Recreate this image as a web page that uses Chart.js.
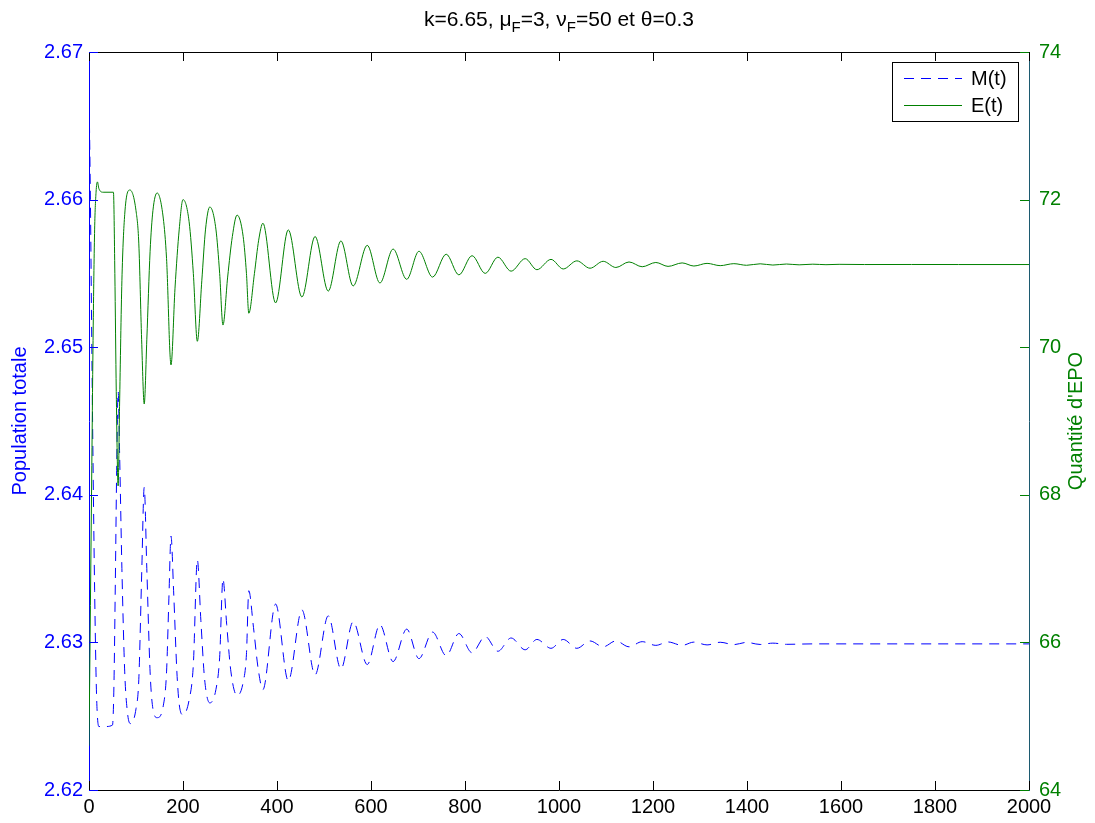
<!DOCTYPE html>
<html><head><meta charset="utf-8">
<script src="https://cdn.jsdelivr.net/npm/chart.js@4/dist/chart.umd.min.js"></script>
<style>html,body{margin:0;padding:0;background:#fff;overflow:hidden}#wrap{width:1095px;height:823px}</style>
</head><body><div id="wrap"><canvas id="c" width="1095" height="823"></canvas></div>
<script>
const FONT = '"Liberation Sans", Arial, Helvetica, sans-serif';
const xTicks = [0, 200, 400, 600, 800, 1000, 1200, 1400, 1600, 1800, 2000];
const leftTicks = [2.62, 2.63, 2.64, 2.65, 2.66, 2.67];
const rightTicks = [64, 66, 68, 70, 72, 74];
const seriesNames = ['M(t)', 'E(t)'];
const leftTitle = 'Population totale';
const rightTitle = "Quantité d'EPO";

// M(t): population totale (left axis)
const mTimes = [0, 3, 6, 9, 12, 16, 21, 35, 50, 53, 56, 59, 62, 65, 70, 76, 82, 88,
  100, 106, 112, 117.5, 123, 130, 136, 145, 158, 165, 170, 174.5, 180, 187, 192, 200,
  213, 222, 230.5, 238, 246, 257, 270, 278, 285, 293, 302, 315, 328, 335, 340, 350, 360, 370,
  397, 424, 453, 481, 509, 536, 562, 592, 619, 647, 676, 702, 731, 760, 787, 815, 843, 870,
  898, 928, 953, 983, 1009, 1038, 1066, 1094, 1121, 1149, 1177, 1206, 1232, 1262, 1287, 1315,
  1343, 1372, 1399, 1428, 1455, 1484, 1540, 1700, 2000];
const mValues = [2.6675, 2.660, 2.650, 2.641, 2.6335, 2.6265, 2.6243, 2.6243, 2.6244, 2.627, 2.634, 2.642, 2.647, 2.643, 2.635, 2.628, 2.6252, 2.6245,
  2.6255, 2.6275, 2.6345, 2.6405, 2.635, 2.628, 2.6255, 2.6249, 2.6257, 2.628, 2.633, 2.6372, 2.6335, 2.628, 2.6258, 2.6251,
  2.6261, 2.6285, 2.6356, 2.6315, 2.6275, 2.6259, 2.6268, 2.629, 2.6343, 2.6312, 2.628, 2.6264, 2.6273, 2.6292, 2.6335, 2.631, 2.6282, 2.6268,
  2.6326, 2.6274, 2.6322, 2.6278, 2.6318, 2.6282, 2.6314, 2.6285, 2.6312, 2.6287, 2.6309, 2.6289, 2.6307, 2.6291, 2.6306, 2.6293, 2.6304, 2.6294,
  2.6303, 2.6295, 2.6302, 2.6296, 2.6302, 2.6296, 2.6301, 2.6297, 2.6301, 2.6297, 2.63005, 2.6298, 2.63003, 2.6298, 2.63002, 2.62983,
  2.63001, 2.62985, 2.6300, 2.62986, 2.62995, 2.62987, 2.6299, 2.6299, 2.6299];

// E(t): quantité d'EPO (right axis)
const eTimes = [0, 3, 6, 9, 12, 15, 18, 21, 30, 52, 55, 58, 62, 65, 70, 76, 87,
  100, 106, 112, 117.5, 123, 130, 136, 145, 158, 165, 174.5, 183, 192, 200,
  213, 222, 230.5, 240, 248, 257, 270, 278, 285, 295, 305, 315, 328, 335, 340, 352, 361, 370,
  397, 424, 453, 481, 509, 536, 562, 592, 619, 647, 676, 702, 731, 760, 787, 815, 843, 870,
  898, 928, 953, 983, 1009, 1038, 1066, 1094, 1121, 1149, 1177, 1206, 1232, 1262, 1287, 1315,
  1343, 1372, 1399, 1428, 1455, 1484, 1511, 1540, 1568, 1596, 1650, 1750, 1850, 2000];
const eValues = [64.6, 66.5, 68.4, 70.3, 71.6, 72.1, 72.24, 72.15, 72.1, 72.1, 71.0, 69.4, 68.12, 69.2, 70.9, 71.8, 72.13,
  71.85, 71.4, 70.1, 69.23, 70.1, 71.3, 71.85, 72.09, 71.75, 71.2, 69.76, 70.8, 71.6, 72.0,
  71.7, 71.0, 70.08, 70.9, 71.6, 71.9, 71.6, 71.0, 70.3, 70.95, 71.5, 71.79, 71.5, 71.0, 70.46, 71.0, 71.45, 71.68,
  70.6, 71.59, 70.68, 71.5, 70.76, 71.44, 70.83, 71.38, 70.87, 71.33, 70.92, 71.3, 70.95, 71.26, 70.98, 71.24, 71.0, 71.22,
  71.03, 71.2, 71.05, 71.19, 71.06, 71.17, 71.07, 71.164, 71.08, 71.155, 71.09, 71.148, 71.095, 71.142, 71.10, 71.136,
  71.105, 71.132, 71.11, 71.13, 71.113, 71.127, 71.116, 71.125, 71.118, 71.123, 71.12, 71.121, 71.12, 71.12];

const mData = mTimes.map((t, i) => ({x: t, y: mValues[i]}));
const eData = eTimes.map((t, i) => ({x: t, y: eValues[i]}));

const BLUE = '#0000ff', GREEN = '#008000', TEAL = '#1c5a70';
const DASH = [10, 7];

function drawTitle(ctx, cx, baseY) {
  const big = '21px ' + FONT, small = '15px ' + FONT;
  const parts = [['k=6.65, \u03bc', big, 0], ['F', small, 6], ['=3, \u03bd', big, 0], ['F', small, 6], ['=50 et \u03b8=0.3', big, 0]];
  let w = 0;
  parts.forEach(p => { ctx.font = p[1]; w += ctx.measureText(p[0]).width; });
  let x = cx - w / 2;
  ctx.fillStyle = '#000'; ctx.textAlign = 'left'; ctx.textBaseline = 'alphabetic';
  parts.forEach(p => { ctx.font = p[1]; ctx.fillText(p[0], x, baseY + p[2]); x += ctx.measureText(p[0]).width; });
}

const decor = {
  id: 'decor',
  afterDraw(chart) {
    const {ctx, chartArea: a, scales} = chart;
    ctx.save();
    ctx.lineWidth = 1;
    // top border
    ctx.strokeStyle = '#000';
    ctx.beginPath(); ctx.moveTo(a.left, a.top + 0.5); ctx.lineTo(a.right + 1, a.top + 0.5); ctx.stroke();
    // x ticks (inward, bottom and top)
    xTicks.forEach(v => {
      const px = Math.round(scales.x.getPixelForValue(v)) + 0.5;
      ctx.beginPath();
      ctx.moveTo(px, a.bottom); ctx.lineTo(px, a.bottom - 9);
      ctx.moveTo(px, a.top); ctx.lineTo(px, a.top + 9);
      ctx.stroke();
    });
    // left ticks blue
    ctx.strokeStyle = BLUE;
    leftTicks.forEach(v => {
      const py = Math.round(scales.y.getPixelForValue(v)) + 0.5;
      ctx.beginPath(); ctx.moveTo(a.left, py); ctx.lineTo(a.left + 9, py); ctx.stroke();
    });
    // right ticks green
    ctx.strokeStyle = GREEN;
    rightTicks.forEach(v => {
      const py = Math.round(scales.y1.getPixelForValue(v)) + 0.5;
      ctx.beginPath(); ctx.moveTo(a.right, py); ctx.lineTo(a.right - 9, py); ctx.stroke();
    });
    // title
    drawTitle(ctx, (a.left + a.right) / 2, 26);
    // axis titles
    ctx.font = '20px ' + FONT;
    ctx.textAlign = 'center'; ctx.textBaseline = 'middle';
    ctx.save(); ctx.translate(20, (a.top + a.bottom) / 2); ctx.rotate(-Math.PI / 2);
    ctx.fillStyle = BLUE; ctx.fillText(leftTitle, 0, 0); ctx.restore();
    ctx.save(); ctx.translate(1076, (a.top + a.bottom) / 2); ctx.rotate(-Math.PI / 2);
    ctx.fillStyle = GREEN; ctx.fillText(rightTitle, 0, 0); ctx.restore();
    // legend
    const lx = 892, ly = 62, lw = 126, lh = 59;
    ctx.fillStyle = '#fff'; ctx.fillRect(lx, ly, lw, lh);
    ctx.strokeStyle = '#000'; ctx.strokeRect(lx + 0.5, ly + 0.5, lw, lh);
    const rows = [[seriesNames[0], BLUE, DASH, 78], [seriesNames[1], GREEN, [], 105]];
    rows.forEach(r => {
      ctx.strokeStyle = r[1]; ctx.setLineDash(r[2]);
      ctx.beginPath(); ctx.moveTo(904, r[3] + 0.5); ctx.lineTo(962, r[3] + 0.5); ctx.stroke();
      ctx.setLineDash([]);
      ctx.fillStyle = '#000'; ctx.textAlign = 'left'; ctx.textBaseline = 'middle';
      ctx.font = '20px ' + FONT;
      ctx.fillText(r[0], 971, r[3] + 1);
    });
    ctx.restore();
  }
};

new Chart(document.getElementById('c'), {
  type: 'line',
  data: {
    datasets: [
      {label: seriesNames[0], data: mData, yAxisID: 'y', borderColor: BLUE, borderWidth: 1, borderDash: DASH,
       pointRadius: 0, fill: false, cubicInterpolationMode: 'monotone', order: 1},
      {label: seriesNames[1], data: eData, yAxisID: 'y1', borderColor: GREEN, borderWidth: 1,
       pointRadius: 0, fill: false, cubicInterpolationMode: 'monotone', order: 0}
    ]
  },
  options: {
    responsive: false, animation: false, devicePixelRatio: 1,
    layout: {padding: {top: 52, left: 0, right: 0, bottom: 0}},
    plugins: {legend: {display: false}, title: {display: false}, tooltip: {enabled: false}},
    scales: {
      x: {
        type: 'linear', position: 'bottom', min: 0, max: 2000,
        afterBuildTicks: s => { s.ticks = xTicks.map(v => ({value: v})); },
        afterFit: s => { s.height = 33; },
        ticks: {color: '#000', font: {family: FONT, size: 20}, padding: 5, maxRotation: 0, autoSkip: false, callback: v => String(v)},
        grid: {display: false, drawTicks: false},
        border: {display: true, color: '#000', width: 1}
      },
      y: {
        type: 'linear', position: 'left', min: 2.62, max: 2.67,
        afterBuildTicks: s => { s.ticks = leftTicks.map(v => ({value: v})); },
        afterFit: s => { s.width = 89; },
        ticks: {color: BLUE, font: {family: FONT, size: 20}, padding: 6, callback: v => Number(v).toFixed(2)},
        grid: {display: false, drawTicks: false},
        border: {display: true, color: BLUE, width: 1}
      },
      y1: {
        type: 'linear', position: 'right', min: 64, max: 74,
        afterBuildTicks: s => { s.ticks = rightTicks.map(v => ({value: v})); },
        afterFit: s => { s.width = 66; },
        ticks: {color: GREEN, font: {family: FONT, size: 20}, padding: 10, callback: v => String(v)},
        grid: {display: false, drawTicks: false},
        border: {display: true, color: TEAL, width: 1}
      }
    }
  },
  plugins: [decor]
});
</script>
</body></html>
